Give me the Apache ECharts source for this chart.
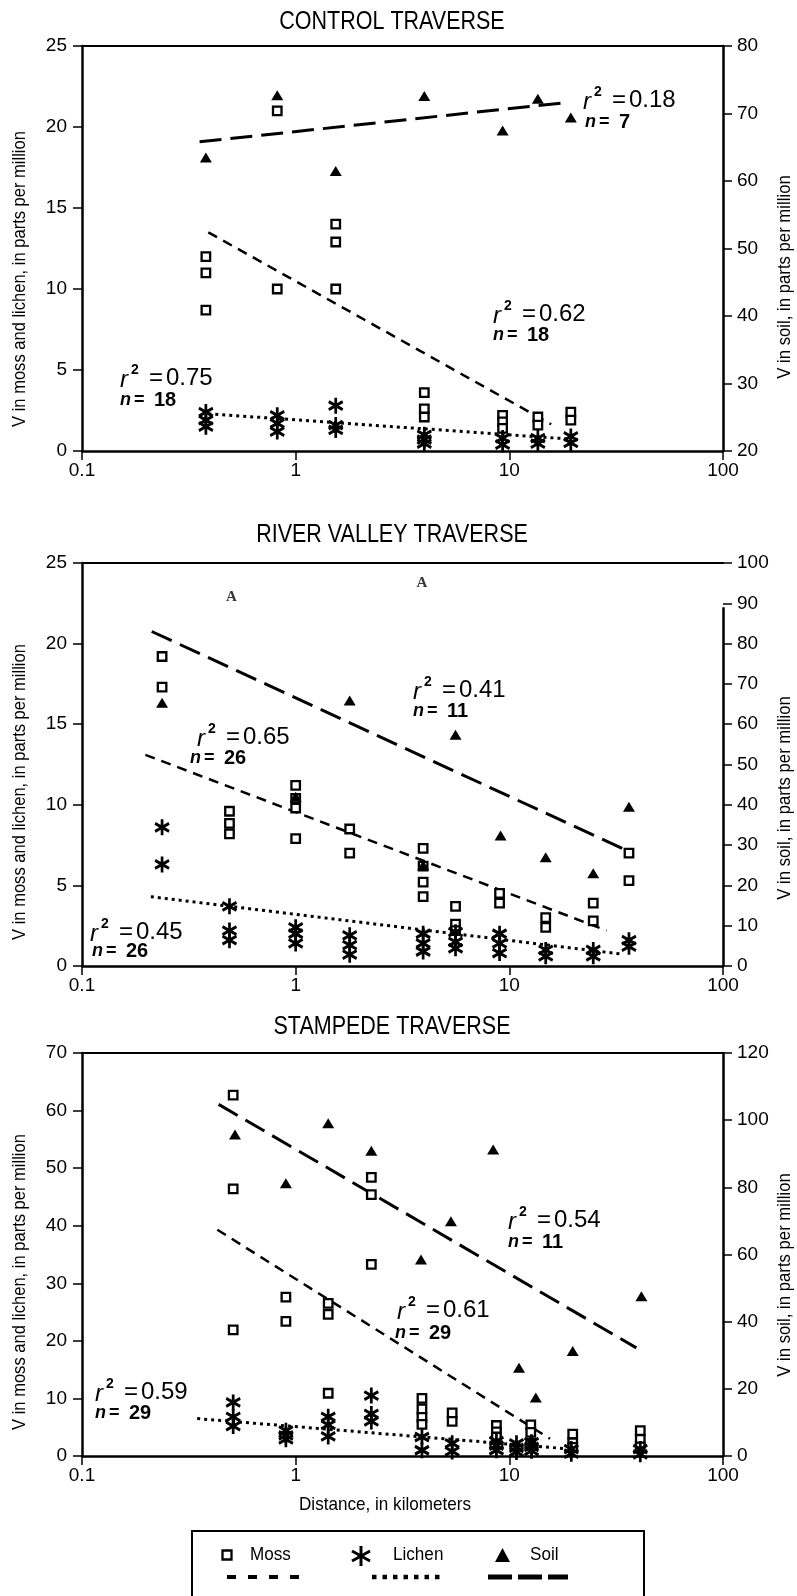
<!DOCTYPE html>
<html>
<head>
<meta charset="utf-8">
<script src="https://cdn.jsdelivr.net/npm/echarts@6/dist/echarts.min.js"></script>
<style>
  html, body { margin: 0; padding: 0; background: #fff; }
  #chart { width: 797px; height: 1596px; }
</style>
</head>
<body>
<div id="chart"></div>
<script>
// Vanadium (ppm) against distance (km) along three traverses.
// Each point is [distance, concentration].

// CONTROL TRAVERSE
const controlMoss = [[0.38,12.0],[0.38,11.0],[0.38,8.7],[0.82,21.0],[0.82,10.0],[1.54,14.0],[1.54,12.9],[1.54,10.0],
  [4.0,3.6],[4.0,2.6],[4.0,2.1],[9.3,2.2],[9.3,1.8],[9.3,1.4],[13.6,2.1],[13.6,1.6],[19.4,2.4],[19.4,1.9]];
const controlLichen = [[0.38,2.4],[0.38,1.9],[0.38,1.5],[0.82,2.2],[0.82,1.7],[0.82,1.2],[1.54,2.8],[1.54,1.6],[1.54,1.3],
  [4.0,1.0],[4.0,0.7],[4.0,0.45],[9.3,0.8],[9.3,0.4],[13.6,0.8],[13.6,0.45],[19.4,0.9],[19.4,0.5]];
const controlSoil = [[0.38,63.5],[0.82,72.7],[1.54,61.5],[4.0,72.6],[9.3,67.5],[13.6,72.2],[19.4,69.4]];
const controlMossFit = [[0.39,13.5],[15.7,1.65]];
const controlLichenFit = [[0.39,2.3],[18.7,0.75]];
const controlSoilFit = [[0.355,65.8],[18.8,71.65]];
const controlStats = [['0.62','18'],['0.75','18'],['0.18','7']]; // moss, lichen, soil

// RIVER VALLEY TRAVERSE
const riverMoss = [[0.237,19.2],[0.237,17.3],[0.49,9.6],[0.49,8.85],[0.49,8.2],[1.0,11.2],[1.0,10.4],[1.0,9.8],[1.0,7.9],
  [1.79,8.5],[1.79,7.0],[3.95,7.3],[3.95,6.2],[3.95,5.2],[3.95,4.3],[5.6,3.7],[5.6,2.6],[5.6,2.2],[9.0,4.5],[9.0,3.9],
  [14.8,3.0],[14.8,2.4],[24.7,3.9],[24.7,2.8],[36.3,7.0],[36.3,5.3]];
const riverLichen = [[0.237,8.6],[0.237,6.3],[0.49,3.7],[0.49,2.2],[0.49,1.6],[1.0,2.4],[1.0,2.0],[1.0,1.4],
  [1.79,1.9],[1.79,1.3],[1.79,0.7],[3.95,2.0],[3.95,1.4],[3.95,0.9],[5.6,2.1],[5.6,1.5],[5.6,1.1],[9.0,2.0],[9.0,1.4],[9.0,0.8],
  [14.8,1.0],[14.8,0.6],[24.7,1.0],[24.7,0.6],[36.3,1.6],[36.3,1.2]];
const riverSoil = [[0.237,65.3],[1.0,42],[1.79,65.9],[3.95,25],[5.6,57.4],[9.1,32.4],[14.8,27],[24.7,23],[36.3,39.5]];
const riverSoilA = [[0.5,91.5],[3.9,95]];  // soil samples printed as the letter A
const riverMossFit = [[0.198,13.1],[28.5,2.2]];
const riverLichenFit = [[0.21,4.3],[33,0.75]];
const riverSoilFit = [[0.212,83],[34.3,29]];
const riverStats = [['0.65','26'],['0.45','26'],['0.41','11']];

// STAMPEDE TRAVERSE
const stampedeMoss = [[0.51,62.7],[0.51,46.4],[0.51,21.9],[0.9,27.6],[0.9,23.4],[1.42,26.5],[1.42,24.6],[1.42,10.9],
  [2.26,48.4],[2.26,45.4],[2.26,33.3],[3.9,10.0],[3.9,8.2],[3.9,6.7],[3.9,5.5],[5.4,7.5],[5.4,6.0],
  [8.7,5.3],[8.7,4.2],[8.7,3.3],[12.6,5.4],[12.6,4.1],[12.6,2.2],[19.8,3.8],[19.8,2.3],[19.8,1.5],[41,4.4],[41,2.9],[41,1.6]];
const stampedeLichen = [[0.51,9.3],[0.51,6.8],[0.51,5.2],[0.9,4.4],[0.9,3.6],[0.9,2.9],[1.42,6.8],[1.42,5.4],[1.42,3.4],
  [2.26,10.5],[2.26,7.3],[2.26,6.0],[3.9,3.3],[3.9,1.0],[5.4,2.2],[5.4,0.8],[8.7,2.6],[8.7,1.8],[8.7,1.0],
  [10.8,2.2],[10.8,1.4],[10.8,0.7],[12.7,2.4],[12.7,1.6],[12.7,0.9],[19.5,1.2],[19.5,0.4],[41,1.2],[41,0.3]];
const stampedeSoil = [[0.52,95.7],[0.9,81.2],[1.42,99.1],[2.26,90.9],[3.86,58.5],[5.33,69.9],[8.4,91.3],[11.1,26.3],
  [13.3,17.4],[19.8,31.3],[41.5,47.6]];
const stampedeMossFit = [[0.43,39.3],[15.5,3.0]];
const stampedeLichenFit = [[0.346,6.5],[18,1.3]];
const stampedeSoilFit = [[0.436,104.7],[39.3,32.2]];
const stampedeStats = [['0.61','29'],['0.59','29'],['0.54','11']];

const distanceRange = [0.1, 100];

// ---------------------------------------------------------------------------
const SANS = "'Liberation Sans', Arial, sans-serif";
const NARROW = "'Liberation Sans Narrow', 'Liberation Sans', Arial, sans-serif";
const SERIF = "'Liberation Serif', 'DejaVu Serif', serif";
const INK = '#000';
const ASTERISK = 'path://M0,-7.5L0,7.5M-6.5,-3.75L6.5,3.75M-6.5,3.75L6.5,-3.75';

const DASH_MOSS = [10, 7];
const DASH_LICHEN = [3, 4];
const DASH_SOIL = [22, 9];

const panels = [
  { title: 'CONTROL TRAVERSE', top: 46, height: 405, titleY: 22, leftNameY: 279, rightNameY: 277,
    leftMax: 25, leftStep: 5, rightMin: 20, rightMax: 80, rightStep: 10,
    moss: controlMoss, lichen: controlLichen, soil: controlSoil,
    mossFit: controlMossFit, lichenFit: controlLichenFit, soilFit: controlSoilFit, stats: controlStats,
    notes: [[493, 314, 493, 335], [120, 378, 120, 400], [583, 100, 585, 122]] },
  { title: 'RIVER VALLEY TRAVERSE', top: 563, height: 403, titleY: 535, leftNameY: 792, rightNameY: 798,
    leftMax: 25, leftStep: 5, rightMin: 0, rightMax: 100, rightStep: 10,
    moss: riverMoss, lichen: riverLichen, soil: riverSoil, soilA: riverSoilA,
    mossFit: riverMossFit, lichenFit: riverLichenFit, soilFit: riverSoilFit, stats: riverStats,
    rightLineTop: 89,
    notes: [[197, 737, 190, 758], [90, 932, 92, 951], [413, 690, 413, 711]] },
  { title: 'STAMPEDE TRAVERSE', top: 1053, height: 403, titleY: 1027, leftNameY: 1282, rightNameY: 1275,
    leftMax: 70, leftStep: 10, rightMin: 0, rightMax: 120, rightStep: 20,
    moss: stampedeMoss, lichen: stampedeLichen, soil: stampedeSoil,
    mossFit: stampedeMossFit, lichenFit: stampedeLichenFit, soilFit: stampedeSoilFit, stats: stampedeStats,
    notes: [[397, 1310, 395, 1333], [95, 1392, 95, 1413], [508, 1220, 508, 1242]] }
];

const GRID_LEFT = 82, GRID_WIDTH = 641;

const grids = [], xAxes = [], yAxes = [], series = [], graphics = [];

const tickLabel = { color: INK, fontSize: 19, fontFamily: NARROW };

function txt(x, y, text, style, extra) {
  return Object.assign({
    type: 'text', x: x, y: y, silent: true,
    style: Object.assign({ text: text, fill: INK, fontFamily: SANS, fontSize: 19,
      align: 'left', verticalAlign: 'middle' }, style || {})
  }, extra || {});
}

function fitNote(pos, r2, n) {
  const [rx, ry, nx, ny] = pos;
  return [
    { type: 'group', x: rx, y: ry, silent: true, children: [
      txt(0, 2, 'r', { fontStyle: 'italic', fontSize: 24 }),
      txt(11, -8, '2', { fontSize: 14, fontWeight: 'bold' }),
      txt(29, 0, '=', { fontSize: 24 }),
      txt(46, 0, r2, { fontSize: 24 })
    ]},
    { type: 'group', x: nx, y: ny, silent: true, children: [
      txt(0, 0, 'n', { fontStyle: 'italic', fontWeight: 'bold', fontSize: 18 }),
      txt(14, 0, '=', { fontWeight: 'bold', fontSize: 18 }),
      txt(34, 0, n, { fontWeight: 'bold', fontSize: 20 })
    ]}
  ];
}

panels.forEach((p, i) => {
  grids.push({ left: GRID_LEFT, top: p.top, width: GRID_WIDTH, height: p.height,
    containLabel: false, outerBoundsMode: 'none' });

  // bottom distance axis
  xAxes.push({
    gridIndex: i, type: 'log', logBase: 10, min: distanceRange[0], max: distanceRange[1], position: 'bottom',
    axisLine: { show: true, onZero: false, lineStyle: { color: INK, width: 2.5 } },
    axisTick: { show: true, inside: false, length: 9, lineStyle: { color: INK, width: 1.5 } },
    axisLabel: Object.assign({ margin: 10, showMinLabel: true, showMaxLabel: true }, tickLabel),
    splitLine: { show: false }, minorTick: { show: false }
  });
  // frame along the top
  xAxes.push({
    gridIndex: i, type: 'log', logBase: 10, min: distanceRange[0], max: distanceRange[1], position: 'top',
    axisLine: { show: true, onZero: false, lineStyle: { color: INK, width: 2 } },
    axisTick: { show: false }, axisLabel: { show: false }, splitLine: { show: false }
  });

  // moss and lichen scale
  yAxes.push({
    gridIndex: i, type: 'value', position: 'left', min: 0, max: p.leftMax, interval: p.leftStep,
    axisLine: { show: true, onZero: false, lineStyle: { color: INK, width: 2.5 } },
    axisTick: { show: true, inside: false, length: 9, lineStyle: { color: INK, width: 1.5 } },
    axisLabel: Object.assign({ margin: 15, showMinLabel: true, showMaxLabel: true }, tickLabel),
    splitLine: { show: false }
  });
  // soil scale
  yAxes.push({
    gridIndex: i, type: 'value', position: 'right', min: p.rightMin, max: p.rightMax, interval: p.rightStep,
    axisLine: { show: p.rightLineTop == null, onZero: false, lineStyle: { color: INK, width: 2.5 } },
    axisTick: { show: true, inside: false, length: 9, lineStyle: { color: INK, width: 1.5 } },
    axisLabel: Object.assign({ margin: 14, showMinLabel: true, showMaxLabel: true }, tickLabel),
    splitLine: { show: false }
  });

  const xi = 2 * i, yl = 2 * i, yr = 2 * i + 1;

  // regression lines
  series.push({ type: 'line', name: 'Moss', xAxisIndex: xi, yAxisIndex: yl, data: p.mossFit, symbol: 'none',
    silent: true, animation: false, z: 2, lineStyle: { color: INK, width: 2.5, type: DASH_MOSS } });
  series.push({ type: 'line', name: 'Lichen', xAxisIndex: xi, yAxisIndex: yl, data: p.lichenFit, symbol: 'none',
    silent: true, animation: false, z: 2, lineStyle: { color: INK, width: 3, type: DASH_LICHEN } });
  const soilLine = { type: 'line', name: 'Soil', xAxisIndex: xi, yAxisIndex: yr, data: p.soilFit, symbol: 'none',
    silent: true, animation: false, z: 2, lineStyle: { color: INK, width: 3, type: DASH_SOIL } };
  if (p.rightLineTop != null) {
    // soil axis line stops short of the top frame
    soilLine.markLine = { silent: true, symbol: ['none', 'none'], label: { show: false },
      lineStyle: { color: INK, width: 2.5, type: 'solid' }, animation: false,
      data: [[{ coord: [distanceRange[1], p.rightMin] }, { coord: [distanceRange[1], p.rightLineTop] }]] };
  }
  series.push(soilLine);

  // samples
  series.push({ type: 'scatter', name: 'Moss', xAxisIndex: xi, yAxisIndex: yl, data: p.moss,
    symbol: 'rect', symbolSize: 8.5, z: 3, animation: false,
    itemStyle: { color: '#fff', borderColor: INK, borderWidth: 2.3, opacity: 1 } });
  series.push({ type: 'scatter', name: 'Lichen', xAxisIndex: xi, yAxisIndex: yl, data: p.lichen,
    symbol: ASTERISK, symbolSize: [14, 16], symbolKeepAspect: false, z: 4, animation: false,
    itemStyle: { color: INK, borderColor: INK, borderWidth: 2.9, opacity: 1 } });
  series.push({ type: 'scatter', name: 'Soil', xAxisIndex: xi, yAxisIndex: yr, data: p.soil,
    symbol: 'triangle', symbolSize: [12, 10], z: 5, animation: false,
    itemStyle: { color: INK, opacity: 1 } });
  if (p.soilA) {
    series.push({ type: 'scatter', name: 'Soil', xAxisIndex: xi, yAxisIndex: yr, data: p.soilA,
      symbol: 'rect', symbolSize: 10, z: 5, animation: false,
      itemStyle: { color: 'rgba(0,0,0,0)', borderWidth: 0 },
      label: { show: true, position: 'inside', formatter: 'A', color: INK,
        fontFamily: SERIF, fontWeight: 'bold', fontSize: 15 } });
  }

  // panel title and axis names
  graphics.push(txt(392, p.titleY, p.title, { fontSize: 25, align: 'center' }, { scaleX: 0.86 }));
  graphics.push(txt(20, p.leftNameY, 'V in moss and lichen, in parts per million',
    { fontSize: 19, align: 'center' }, { rotation: Math.PI / 2, scaleX: 0.87 }));
  graphics.push(txt(785, p.rightNameY, 'V in soil, in parts per million',
    { fontSize: 19, align: 'center' }, { rotation: Math.PI / 2, scaleX: 0.88 }));

  // r-squared and sample counts: moss, lichen, soil
  p.stats.forEach((s, k) => { graphics.push(...fitNote(p.notes[k], s[0], s[1])); });
});

// x-axis title
graphics.push(txt(385, 1505, 'Distance, in kilometers', { fontSize: 19, align: 'center' }, { scaleX: 0.9 }));

// legend box
const LEG_Y1 = 1555, LEG_Y2 = 1577;
graphics.push({ type: 'rect', silent: true, shape: { x: 192, y: 1531, width: 452, height: 100 },
  style: { fill: 'none', stroke: INK, lineWidth: 2 } });
graphics.push({ type: 'rect', silent: true, shape: { x: 222.5, y: LEG_Y1 - 4.5, width: 9, height: 9 },
  style: { fill: '#fff', stroke: INK, lineWidth: 2.3 } });
graphics.push(txt(250, LEG_Y1, 'Moss', { fontSize: 19 }, { scaleX: 0.9 }));
graphics.push({ type: 'group', x: 361, y: LEG_Y1 + 1, silent: true, children: [
  { type: 'line', shape: { x1: 0, y1: -10, x2: 0, y2: 10 }, style: { stroke: INK, lineWidth: 3 } },
  { type: 'line', shape: { x1: -9, y1: -5, x2: 9, y2: 5 }, style: { stroke: INK, lineWidth: 3 } },
  { type: 'line', shape: { x1: -9, y1: 5, x2: 9, y2: -5 }, style: { stroke: INK, lineWidth: 3 } }
]});
graphics.push(txt(393, LEG_Y1, 'Lichen', { fontSize: 19 }, { scaleX: 0.9 }));
graphics.push({ type: 'polygon', silent: true,
  shape: { points: [[495, LEG_Y1 + 7], [510, LEG_Y1 + 7], [502.5, LEG_Y1 - 7]] }, style: { fill: INK } });
graphics.push(txt(530, LEG_Y1, 'Soil', { fontSize: 19 }, { scaleX: 0.9 }));
graphics.push({ type: 'line', silent: true, shape: { x1: 227, y1: LEG_Y2, x2: 300, y2: LEG_Y2 },
  style: { stroke: INK, lineWidth: 4, lineDash: [9, 12] } });
graphics.push({ type: 'line', silent: true, shape: { x1: 372, y1: LEG_Y2, x2: 441, y2: LEG_Y2 },
  style: { stroke: INK, lineWidth: 4.5, lineDash: [4.5, 6] } });
graphics.push({ type: 'line', silent: true, shape: { x1: 488, y1: LEG_Y2, x2: 568, y2: LEG_Y2 },
  style: { stroke: INK, lineWidth: 5, lineDash: [24, 6] } });

const chart = echarts.init(document.getElementById('chart'), null, { renderer: 'canvas' });
chart.setOption({
  animation: false,
  backgroundColor: '#fff',
  grid: grids,
  xAxis: xAxes,
  yAxis: yAxes,
  series: series,
  graphic: { elements: graphics }
});
</script>
</body>
</html>
